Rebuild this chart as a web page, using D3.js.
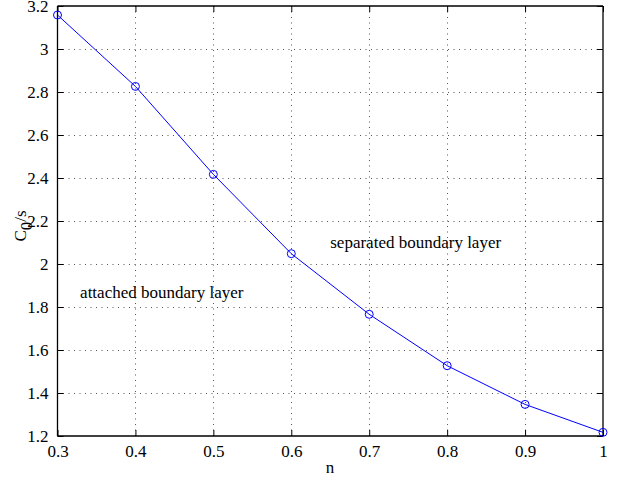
<!DOCTYPE html>
<html><head><meta charset="utf-8">
<script src="https://cdn.jsdelivr.net/npm/d3@7"></script>
<style>body{margin:0;background:#fff}svg{display:block}text{font-family:"Liberation Serif","Times New Roman",serif;fill:#000}</style>
</head><body><svg id="c" width="627" height="480"></svg>
<script>
const nValues = [0.3, 0.4, 0.5, 0.6, 0.7, 0.8, 0.9, 1.0];
const c0sValues = [3.158, 2.826, 2.417, 2.048, 1.766, 1.527, 1.347, 1.217];
const xTicks = [0.3, 0.4, 0.5, 0.6, 0.7, 0.8, 0.9, 1];
const yTicks = [1.2, 1.4, 1.6, 1.8, 2, 2.2, 2.4, 2.6, 2.8, 3, 3.2];
const annotations = [
  {text: "separated boundary layer", n: 0.65, v: 2.076},
  {text: "attached boundary layer", n: 0.329, v: 1.843}
];

const svg = d3.select("#c");
const L = 57.5, R = 603, T = 6, B = 436;
const x = d3.scaleLinear().domain([0.3, 1]).range([L, R]);
const y = d3.scaleLinear().domain([1.2, 3.2]).range([B, T]);
const fs = 17;

// grid
const g = svg.append("g");
g.selectAll(".vg").data(xTicks.slice(1, -1)).enter().append("line")
  .attr("x1", d => Math.round(x(d)) + 0.5).attr("x2", d => Math.round(x(d)) + 0.5)
  .attr("y1", T).attr("y2", B)
  .attr("stroke", "#555").attr("stroke-width", 1).attr("stroke-dasharray", "1,4.5");
g.selectAll(".hg").data(yTicks.slice(1, -1)).enter().append("line")
  .attr("y1", d => Math.round(y(d)) + 0.5).attr("y2", d => Math.round(y(d)) + 0.5)
  .attr("x1", L).attr("x2", R)
  .attr("stroke", "#555").attr("stroke-width", 1).attr("stroke-dasharray", "1,4.5");

// axes (ticks inside, all four sides)
const tl = 6;
const axB = d3.axisBottom(x).tickValues(xTicks).tickSize(-tl).tickPadding(tl + 3).tickFormat(d3.format("~g"));
const axT = d3.axisTop(x).tickValues(xTicks).tickSize(-tl).tickFormat("");
const axLft = d3.axisLeft(y).tickValues(yTicks).tickSize(-tl).tickPadding(tl + 3).tickFormat(d3.format("~g"));
const axRt = d3.axisRight(y).tickValues(yTicks).tickSize(-tl).tickFormat("");
function style(sel) {
  sel.selectAll("path").attr("stroke", "#000").attr("stroke-width", 1.3);
  sel.selectAll("line").attr("stroke", "#000");
  sel.selectAll("text").attr("font-size", fs).attr("font-family", '"Liberation Serif",serif').attr("fill", "#000");
}
svg.append("g").attr("transform", `translate(0,${B})`).call(axB).call(style).call(s => s.select(".domain").attr("d", `M${L},0H${R}`));
svg.append("g").attr("transform", `translate(0,${T})`).call(axT).call(style).call(s => s.select(".domain").attr("d", `M${L},0H${R}`));
svg.append("g").attr("transform", `translate(${L},0)`).call(axLft).call(style).call(s => s.select(".domain").attr("d", `M0,${T}V${B}`));
svg.append("g").attr("transform", `translate(${R},0)`).call(axRt).call(style).call(s => s.select(".domain").attr("d", `M0,${T}V${B}`));

// line + markers
const data = nValues.map((n, i) => ({n, v: c0sValues[i]}));
svg.append("path").datum(data)
  .attr("d", d3.line().x(d => x(d.n)).y(d => y(d.v)))
  .attr("fill", "none").attr("stroke", "#0000ff").attr("stroke-width", 1);
svg.selectAll(".m").data(data).enter().append("circle")
  .attr("cx", d => x(d.n)).attr("cy", d => y(d.v)).attr("r", 4)
  .attr("fill", "none").attr("stroke", "#0000ff").attr("stroke-width", 1);

// annotations
svg.selectAll(".ann").data(annotations).enter().append("text")
  .attr("x", d => x(d.n)).attr("y", d => y(d.v))
  .attr("font-size", fs).text(d => d.text);

// axis labels
svg.append("text").attr("x", 330).attr("y", 473).attr("text-anchor", "middle")
  .attr("font-size", fs).text("n");
const yl = svg.append("text").attr("transform", "translate(26,226) rotate(-90)")
  .attr("text-anchor", "middle").attr("font-size", fs);
yl.append("tspan").text("C");
yl.append("tspan").attr("dy", 6).text("0");
yl.append("tspan").attr("dy", -6).text("/s");
</script></body></html>
